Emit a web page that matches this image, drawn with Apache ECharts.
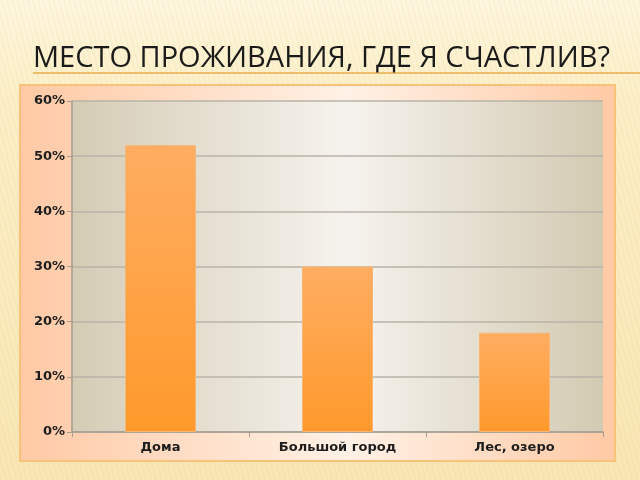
<!DOCTYPE html>
<html>
<head>
<meta charset="utf-8">
<script src="https://cdn.jsdelivr.net/npm/echarts@6/dist/echarts.min.js"></script>
<style>
  html, body { margin: 0; padding: 0; }
  body {
    width: 640px; height: 480px; overflow: hidden;
    background:
      repeating-linear-gradient(75deg, rgba(225,195,115,0.10) 0px, rgba(225,195,115,0.10) 2px, rgba(255,255,255,0) 2px, rgba(255,255,255,0) 5px),
      linear-gradient(to bottom, #fef7e0 0%, #fcefc8 20%, #f8e6b4 100%);
  }
  #chart { width: 640px; height: 480px; }
</style>
</head>
<body>
<div id="chart"></div>
<script>
// chart data
const categories = ['Дома', 'Большой город', 'Лес, озеро'];
const shares = [52, 30, 18];
const yMin = 0;
const yMax = 60;
const yStep = 10;

const chart = echarts.init(document.getElementById('chart'));

const labelFont = {
    fontFamily: 'DejaVu Sans',
    fontSize: 13,
    fontWeight: 'bold',
    color: '#1c1c1c'
};

chart.setOption({
    backgroundColor: 'transparent',
    animation: false,
    title: {
        text: 'МЕСТО ПРОЖИВАНИЯ, ГДЕ Я СЧАСТЛИВ?',
        left: 28,
        top: 39,
        textStyle: {
            fontFamily: 'Open Sans',
            fontSize: 29,
            fontWeight: 'normal',
            color: '#1a1a1a'
        }
    },
    graphic: [
        {
            type: 'line',
            z: -10,
            shape: { x1: 33, y1: 73, x2: 640, y2: 73 },
            style: { stroke: '#e6ad4c', lineWidth: 1.5 }
        },
        {
            type: 'rect',
            z: -10,
            shape: { x: 20, y: 85, width: 595, height: 376 },
            style: {
                fill: new echarts.graphic.LinearGradient(0, 0, 1, 0, [
                    { offset: 0, color: '#ffc9a4' },
                    { offset: 0.55, color: '#fff1e6' },
                    { offset: 1, color: '#ffc9a4' }
                ]),
                stroke: '#f9c27a',
                lineWidth: 2
            }
        }
    ],
    grid: {
        left: 72,
        right: 37,
        top: 101,
        bottom: 48,
        show: true,
        borderWidth: 0,
        backgroundColor: new echarts.graphic.LinearGradient(0, 0, 1, 0, [
            { offset: 0, color: '#d5ccb5' },
            { offset: 0.52, color: '#f6f3ee' },
            { offset: 1, color: '#d3cab2' }
        ])
    },
    xAxis: {
        type: 'category',
        data: categories,
        axisLine: { lineStyle: { color: '#a39d92', width: 1.5 } },
        axisTick: { show: true, length: 5, lineStyle: { color: '#a39d92' } },
        axisLabel: Object.assign({ margin: 9 }, labelFont)
    },
    yAxis: {
        type: 'value',
        min: yMin,
        max: yMax,
        interval: yStep,
        axisLine: { show: true, lineStyle: { color: '#a39d92', width: 1.5 } },
        axisTick: { show: true, length: 5, lineStyle: { color: '#a39d92' } },
        axisLabel: Object.assign({ margin: 7, formatter: '{value}%' }, labelFont),
        splitLine: { lineStyle: { color: '#b9b3a9', width: 1.5 } }
    },
    series: [{
        type: 'bar',
        data: shares,
        barWidth: 71,
        itemStyle: {
            color: new echarts.graphic.LinearGradient(0, 0, 0, 1, [
                { offset: 0, color: '#ffad62' },
                { offset: 1, color: '#ff992b' }
            ]),
            borderColor: '#f8b676',
            borderWidth: 1
        }
    }]
});
</script>
</body>
</html>
